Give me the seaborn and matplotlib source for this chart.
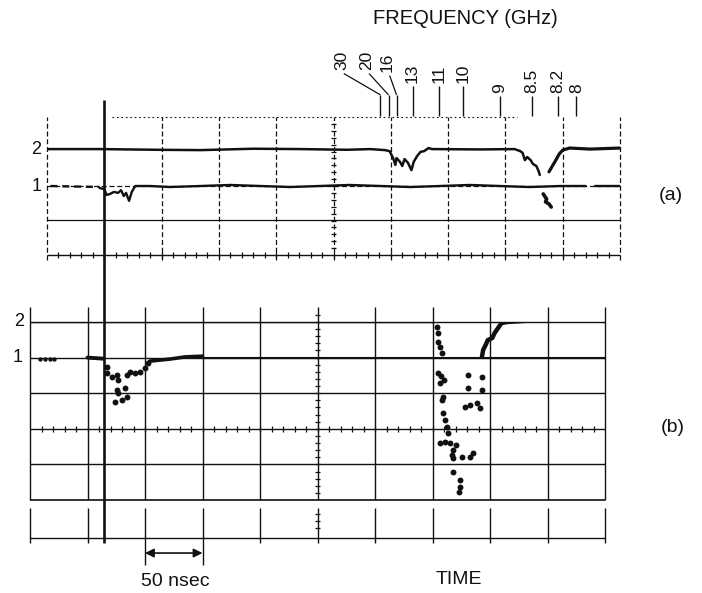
import matplotlib
matplotlib.use("Agg")
import matplotlib.pyplot as plt
import numpy as np
import seaborn as sns

W, H = 702, 593
INK = "#111111"

sns.set_theme(style="white")
plt.rcParams["font.family"] = ["Liberation Sans", "DejaVu Sans"]

# ---------------------------------------------------------------
# Data: time in ns (50 ns per graticule division),
# amplitude in graticule divisions.
# ---------------------------------------------------------------

# (a) channel 2 (upper trace)
a2_main_t = [0, 46, 95, 134, 180, 221, 262, 282, 295, 299, 302, 304, 305, 308,
             310, 312, 315, 318, 320, 323, 326, 329, 333, 336, 378, 408, 413,
             415, 417, 419, 422, 424, 427, 429, 430]
a2_main_v = [3.07, 3.07, 3.05, 3.04, 3.08, 3.07, 3.05, 3.07, 3.04, 3.01, 2.81,
             2.61, 2.81, 2.70, 2.58, 2.78, 2.67, 2.46, 2.70, 2.87, 2.99, 3.01,
             3.10, 3.07, 3.06, 3.07, 3.01, 2.96, 2.75, 2.84, 2.75, 2.64, 2.58,
             2.43, 2.32]
a2_rec_t = [438, 441, 444, 447, 450, 456, 474, 500]
a2_rec_v = [2.41, 2.58, 2.75, 2.93, 3.04, 3.10, 3.07, 3.10]

# (a) channel 1 (lower trace)
a1_pre_t = [3, 46]
a1_pre_v = [2.0, 1.97]
a1_main_t = [46, 50, 52, 55, 58.5, 62, 64.6, 67, 69, 71.6, 74, 77, 90, 107, 134,
             160, 186, 212, 238, 264, 291, 317, 343, 369, 395, 421, 448, 470]
a1_main_v = [1.94, 1.91, 1.74, 1.77, 1.83, 1.80, 1.88, 1.71, 1.80, 1.57, 1.83,
             2.0, 2.0, 1.97, 2.0, 2.03, 2.0, 1.97, 2.0, 2.03, 2.0, 1.97, 2.0,
             2.03, 2.0, 1.97, 2.0, 2.0]
a1_tail_t = [478, 500]
a1_tail_v = [2.0, 2.0]
a1_blob_t = [433, 436, 435, 438, 440]
a1_blob_v = [1.77, 1.62, 1.54, 1.48, 1.39]

# (b) channel 1
b1_lead_t = [9, 13, 17, 21]
b1_lead_v = [3.97, 3.97, 3.97, 3.97]
b1_hold_t = [50, 64]
b1_hold_v = [4.0, 3.97]
b1_dip_t = [67, 67, 71, 76, 76.5, 84, 87, 91, 96, 100, 103,
            76, 76.5, 74, 80, 84, 83]
b1_dip_v = [3.74, 3.57, 3.46, 3.51, 3.37, 3.51, 3.60, 3.57, 3.60, 3.71, 3.85,
            3.09, 3.01, 2.75, 2.81, 2.89, 3.15]
b1_rec_t = [104, 113, 122, 135, 150]
b1_rec_v = [3.90, 3.93, 3.96, 4.02, 4.04]
b1_tail_t = [150, 500]
b1_tail_v = [4.0, 4.0]

# (b) channel 2
b2_lead_t = [0, 350]
b2_lead_v = [5.0, 5.0]
b2_dip_t = [350, 354, 355, 355, 356.5, 358, 355, 357, 360, 356.5, 359, 358, 359,
            361, 362.5, 363.5, 356.5, 361, 365, 368, 370, 367, 368, 376, 383,
            385, 368, 374, 374, 373, 381, 393, 381, 393, 378, 383, 389, 391]
b2_dip_v = [5.06, 4.86, 4.69, 4.44, 4.30, 4.13, 3.57, 3.48, 3.37, 3.29, 2.89,
            2.81, 2.44, 2.25, 2.05, 1.88, 1.60, 1.63, 1.60, 1.40, 1.54, 1.26,
            1.18, 1.21, 1.21, 1.32, 0.79, 0.56, 0.37, 0.22, 3.51, 3.46, 3.15,
            3.09, 2.61, 2.67, 2.72, 2.58]
b2_rec_t = [393, 394, 397, 398, 402, 404, 407, 410, 415, 443]
b2_rec_v = [4.02, 4.21, 4.41, 4.49, 4.55, 4.69, 4.83, 4.97, 5.0, 5.06]
b2_tail_t = [443, 500]
b2_tail_v = [5.06, 5.0]

# frequency markers above panel (a)
freq_labels = ["30", "20", "16", "13", "11", "10", "9", "8.5", "8.2", "8"]
freq_t = [291, 298, 305, 319, 342, 363, 395, 423, 446, 462]

# ---------------------------------------------------------------
fig = plt.figure(figsize=(W / 100, H / 100), dpi=100)
fig.patch.set_facecolor("white")


def px_axes(left, top, right, bottom):
    return fig.add_axes([left / W, 1 - bottom / H, (right - left) / W, (bottom - top) / H])


def ftext(x, y, s, **kw):
    kw.setdefault("ha", "center")
    kw.setdefault("va", "center")
    kw.setdefault("fontsize", 14)
    kw.setdefault("color", INK)
    fig.text(x / W, 1 - y / H, s, **kw)


def trace(ax, t, v, lw=1.6, ls="-"):
    sns.lineplot(x=t, y=v, estimator=None, sort=False, color=INK,
                 linewidth=lw, linestyle=ls, ax=ax, legend=False)


def dots(ax, t, v, s=16):
    sns.scatterplot(x=t, y=v, s=s, color=INK, linewidth=0, ax=ax, legend=False)


def seg(ax, xs, ys, lw=0.9, ls="-", color=INK):
    ax.plot(xs, ys, color=color, lw=lw, ls=ls, clip_on=False, solid_capstyle="butt")


ax_a = px_axes(47, 117, 620, 255)
ax_b = px_axes(30, 322, 605, 500)
cols = np.arange(0, 501, 50)
dash = (0, (4, 2.2))

# ---------------- panel (a) graticule ----------------
for c in cols:
    seg(ax_a, [c, c], [-0.14, 4.0], lw=0.9, ls=dash)
seg(ax_a, [0, 500], [0, 0], lw=1.0)
seg(ax_a, [0, 500], [1.02, 1.02], lw=0.9)
seg(ax_a, [0, 500], [2, 2], lw=0.9, ls=dash)
seg(ax_a, [57, 410], [4, 4], lw=0.8, ls=(0, (1.5, 2.5)))
ax_a.vlines(np.arange(10, 500, 10), -0.09, 0.09, color=INK, lw=0.9, clip_on=False)
ax_a.hlines(np.arange(0.2, 4.0, 0.2), 247.5, 252.5, color=INK, lw=0.9, clip_on=False)

# ---------------- panel (a) traces ----------------
trace(ax_a, a2_main_t, a2_main_v, lw=1.8)
trace(ax_a, a2_rec_t, a2_rec_v, lw=2.3)
trace(ax_a, a1_pre_t, a1_pre_v, lw=1.7, ls=(0, (3, 2)))
trace(ax_a, a1_main_t, a1_main_v, lw=1.7)
trace(ax_a, a1_tail_t, a1_tail_v, lw=1.7)
trace(ax_a, a1_blob_t, a1_blob_v, lw=2.6)
ax_a.set_xlim(0, 500)
ax_a.set_ylim(0, 4)
ax_a.axis("off")

# frequency markers
label_t = [257, 279, 297, 319, 342, 363, 395, 423, 446, 462]
label_y = [5.36, 5.36, 5.30, 4.99, 4.99, 4.99, 4.70, 4.70, 4.70, 4.70]
for i, (lab, ft) in enumerate(zip(freq_labels, freq_t)):
    if i < 3:
        seg(ax_a, [ft, ft], [4.04, 4.64], lw=1.0)
        seg(ax_a, [ft, label_t[i] + 2], [4.64, label_y[i] - 0.1], lw=0.9)
    else:
        seg(ax_a, [ft, ft], [4.04, label_y[i] - 0.08], lw=1.0)
    ax_a.text(label_t[i], label_y[i], lab, rotation=90, ha="center", va="bottom",
              fontsize=12.5, color=INK, clip_on=False)

# ---------------- panel (b) graticule ----------------
for c in cols:
    seg(ax_b, [c, c], [0, 5.42], lw=1.0)
    seg(ax_b, [c, c], [-0.22, -1.83 if c in (100, 150) else -1.2], lw=1.0)
for r in range(6):
    seg(ax_b, [0, 500], [r, r], lw=1.2 if r == 0 else 1.0)
seg(ax_b, [0, 500], [-1.07, -1.07], lw=1.0)
ax_b.vlines(np.arange(10, 500, 10), 1.92, 2.08, color=INK, lw=0.9, clip_on=False)
ax_b.hlines(np.arange(0.2, 5.4, 0.2), 247.5, 252.5, color=INK, lw=0.9, clip_on=False)
ax_b.hlines([-0.4, -0.6, -0.8], 247.5, 252.5, color=INK, lw=0.9, clip_on=False)

# ---------------- panel (b) traces ----------------
dots(ax_b, b1_lead_t, b1_lead_v, s=10)
trace(ax_b, b1_hold_t, b1_hold_v, lw=2.8)
dots(ax_b, b1_dip_t, b1_dip_v, s=18)
trace(ax_b, b1_rec_t, b1_rec_v, lw=2.6)
trace(ax_b, b1_tail_t, b1_tail_v, lw=1.5)
trace(ax_b, b2_lead_t, b2_lead_v, lw=1.7)
dots(ax_b, b2_dip_t, b2_dip_v, s=18)
trace(ax_b, b2_rec_t, b2_rec_v, lw=3.2)
trace(ax_b, b2_tail_t, b2_tail_v, lw=1.7)
ax_b.set_xlim(0, 500)
ax_b.set_ylim(0, 5)
ax_b.axis("off")

# time-scale arrow: one division = 50 ns
ax_b.annotate("", xy=(150, -1.49), xytext=(100, -1.49), annotation_clip=False,
              arrowprops=dict(arrowstyle="<|-|>", mutation_scale=13, lw=1.2,
                              color=INK, shrinkA=0, shrinkB=0))

# trigger reference line through both panels
seg(ax_a, [50, 50], [4.49, -8.35], lw=1.9)

# ---------------- labels ----------------
ftext(465, 18, "FREQUENCY (GHz)", fontsize=14.5)
ftext(36, 149, "2", fontsize=13)
ftext(37, 186, "1", fontsize=13)
ftext(19, 322, "2", fontsize=13)
ftext(18, 358, "1", fontsize=13)
ftext(671, 196, "(a)")
ftext(673, 427, "(b)")
ftext(175, 581, "50 nsec")
ftext(459, 580, "TIME")

fig.savefig("out.png", dpi=100, facecolor="white")
